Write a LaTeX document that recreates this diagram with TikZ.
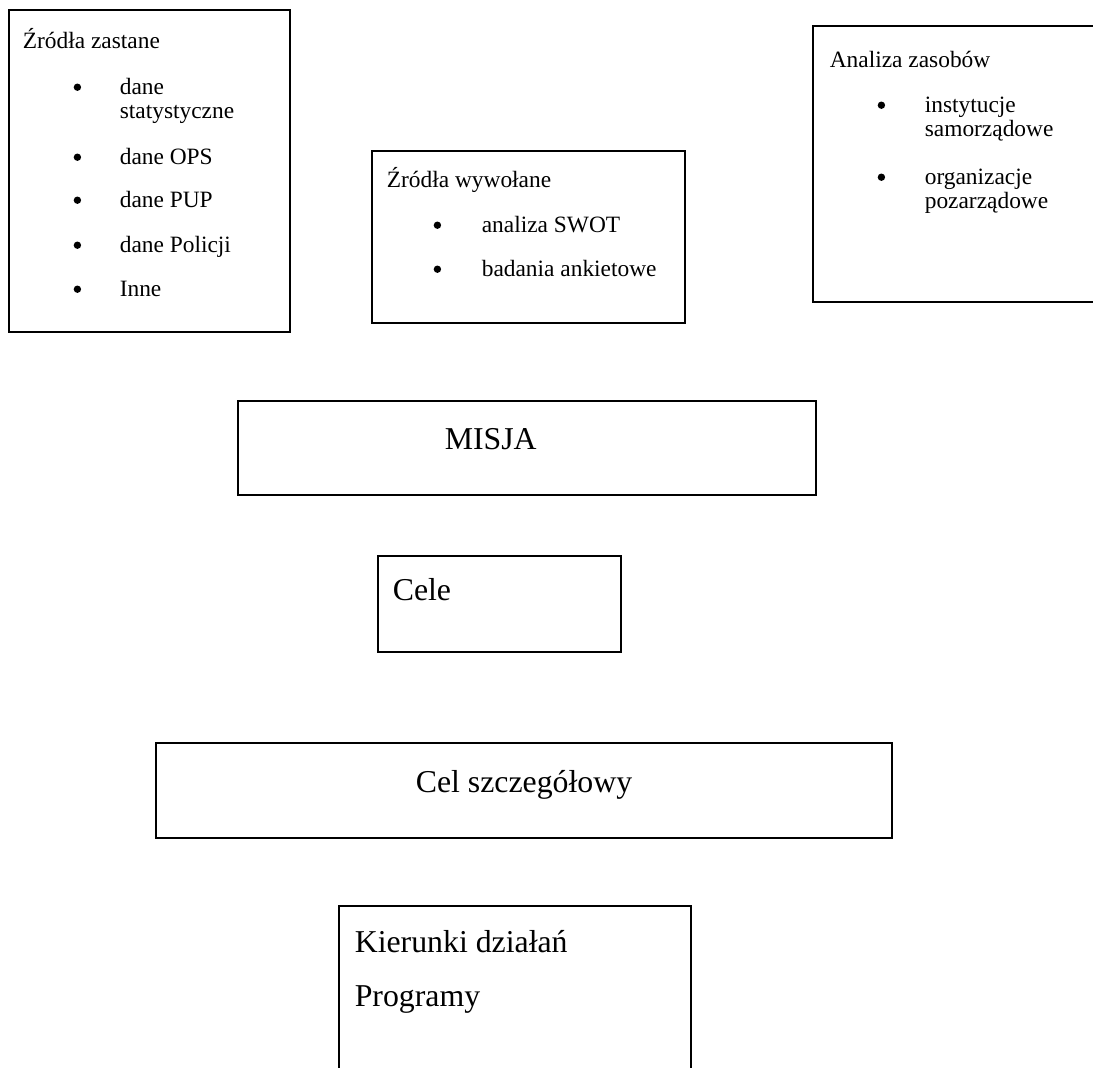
\documentclass[tikz,border=0pt]{standalone}
\usepackage{fontspec}
\setmainfont{Liberation Serif}
\usetikzlibrary{positioning, fit, calc}
\tikzset{
  panel/.style={
    draw=black, line width=0.6pt,
    inner sep=0pt
  },
  txt/.style={
    font=\fontsize{11.7}{14}\selectfont,
    inner sep=0pt,
    anchor=base west
  },
  punkt/.style={
    circle, fill=black,
    inner sep=0pt, minimum size=3.7pt,
    yshift=3.6pt
  },
  bigtxt/.style={
    font=\fontsize{15.9}{19}\selectfont,
    inner sep=0pt,
    anchor=base west
  }
}

\begin{document}
\begin{tikzpicture}[x=0.5pt, y=-0.5pt]
  \useasboundingbox (0,0) rectangle (1093,1067);

  % ramki
  \node[panel, fit={(9,10) (290,332)}] (zastane) {};
  \node[panel, fit={(372,151) (685,323)}] (wywolane) {};
  \node[panel, fit={(813,26) (1097,302)}] (zasoby) {};
  \node[panel, fit={(238,401) (816,495)}] (misja) {};
  \node[panel, fit={(378,556) (621,652)}] (cele) {};
  \node[panel, fit={(156,743) (892,838)}] (celszcz) {};
  \node[panel, fit={(339,906) (691,1071)}] (kierunki) {};

  % Zrodla zastane
  \node[txt] (zastaneT) at ($(zastane.north west)+(14,39)$) {Źródła zastane};
  \node[punkt] (zb1) at ($(zastane.north west)+(69,85)$) {};
  \node[txt] (z1a) at ($(zastane.north west)+(111,85)$) {dane};
  \node[txt] (z1b) at ($(zastane.north west)+(111,109)$) {statystyczne};
  \node[punkt] (zb2) at ($(zastane.north west)+(69,155)$) {};
  \node[txt] (z2) at ($(zastane.north west)+(111,155)$) {dane OPS};
  \node[punkt] (zb3) at ($(zastane.north west)+(69,198)$) {};
  \node[txt] (z3) at ($(zastane.north west)+(111,198)$) {dane PUP};
  \node[punkt] (zb4) at ($(zastane.north west)+(69,243)$) {};
  \node[txt] (z4) at ($(zastane.north west)+(111,243)$) {dane Policji};
  \node[punkt] (zb5) at ($(zastane.north west)+(69,287)$) {};
  \node[txt] (z5) at ($(zastane.north west)+(111,287)$) {Inne};

  % Zrodla wywolane
  \node[txt] (wywolaneT) at ($(wywolane.north west)+(15,37)$) {Źródła wywołane};
  \node[punkt] (wb1) at ($(wywolane.north west)+(66,82)$) {};
  \node[txt] (w1) at ($(wywolane.north west)+(110,82)$) {analiza SWOT};
  \node[punkt] (wb2) at ($(wywolane.north west)+(66,126)$) {};
  \node[txt] (w2) at ($(wywolane.north west)+(110,126)$) {badania ankietowe};

  % Analiza zasobow
  \node[txt] (zasobyT) at ($(zasoby.north west)+(17,42)$) {Analiza zasobów};
  \node[punkt] (ab1) at ($(zasoby.north west)+(69,87)$) {};
  \node[txt] (a1a) at ($(zasoby.north west)+(112,87)$) {instytucje};
  \node[txt] (a1b) at ($(zasoby.north west)+(112,111)$) {samorządowe};
  \node[punkt] (ab2) at ($(zasoby.north west)+(69,159)$) {};
  \node[txt] (a2a) at ($(zasoby.north west)+(112,159)$) {organizacje};
  \node[txt] (a2b) at ($(zasoby.north west)+(112,183)$) {pozarządowe};

  % dolne ramki
  \node[bigtxt] (misjaT) at ($(misja.north west)+(207,49)$) {MISJA};
  \node[bigtxt] (celeT) at ($(cele.north west)+(15,45)$) {Cele};
  \node[bigtxt, anchor=base] (celszczT) at ($(celszcz.north)+(0,50)$) {Cel szczegółowy};
  \node[bigtxt] (kierunkiT) at ($(kierunki.north west)+(16,47)$) {Kierunki działań};
  \node[bigtxt] (programyT) at ($(kierunki.north west)+(16,101)$) {Programy};
\end{tikzpicture}
\end{document}
